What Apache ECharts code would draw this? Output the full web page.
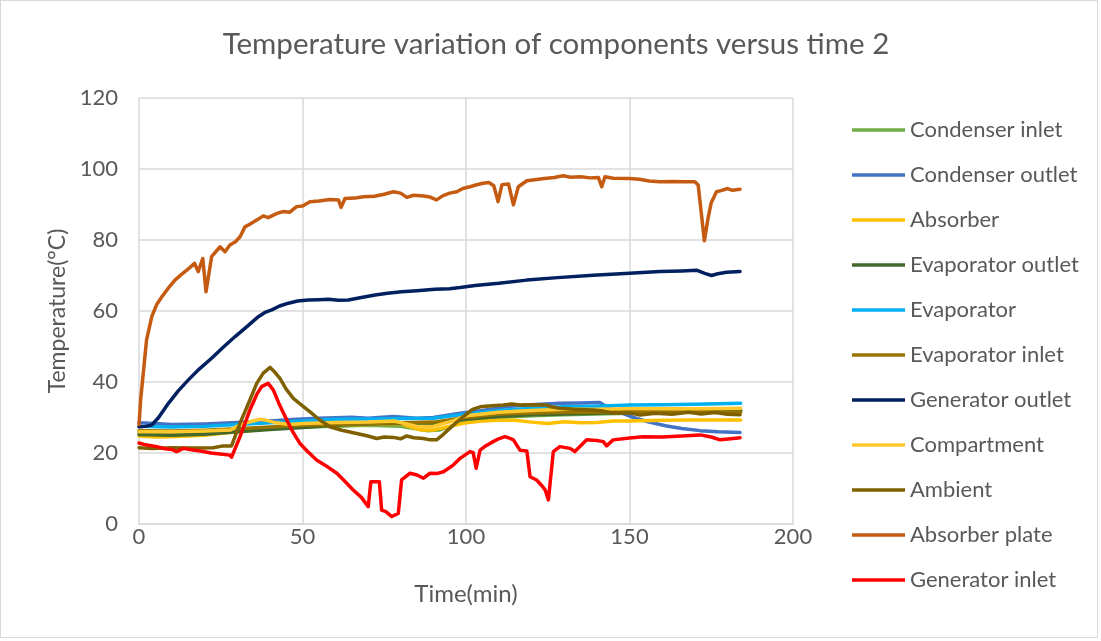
<!DOCTYPE html>
<html>
<head>
<meta charset="utf-8">
<script src="https://cdn.jsdelivr.net/npm/echarts@6/dist/echarts.min.js"></script>
<style>
  html, body { margin: 0; padding: 0; background: #fff; }
  #frame { position: absolute; left: 0; top: 0; width: 1096px; height: 636px; border: 1px solid #d9d9d9; }
  #chart { width: 1101px; height: 641px; }
</style>
</head>
<body>
<div id="frame"></div>
<div id="chart"></div>
<script>
// Measured temperatures, [time (min), temperature (°C)]
const condenserInlet = [[0,25.8],[10,25.8],[20,26],[30,26.3],[40,27],[50,27.3],[60,27.5],[70,27.8],[80,27.5],[88,26.3],[92,26.5],[100,29],[110,30],[120,30.5],[130,30.8],[140,31],[150,31.2],[160,31.5],[170,31.6],[184,31.8]];
const condenserOutlet = [[0,28.5],[5,28.3],[10,28],[20,28.2],[30,28.6],[40,29],[48.2,29.5],[55,29.8],[65,30.1],[70,29.8],[77.8,30.3],[85,29.8],[90,30],[98.2,31.2],[105,32],[113.5,33.2],[120,33.6],[128.7,34],[135,34.1],[140.9,34.2],[143,33],[147,31.5],[151.2,30],[156,28.7],[161.4,27.6],[166,26.9],[171.6,26.3],[177,26],[183.8,25.8]];
const absorber = [[0,24.8],[5,24.5],[10,24.6],[20,25],[30,26],[40,26.8],[50,27.3],[60,27.8],[70,28],[80,28.2],[86,26.5],[90,26.5],[95,27.5],[100,28.5],[105,29],[110,29.2],[115,29.2],[120,28.7],[125,28.3],[130,28.8],[135,28.5],[140,28.6],[145,29],[150,29],[160,29.2],[170,29.3],[184,29.3]];
const evaporatorOutlet = [[0,25.2],[10,25],[20,25.3],[30,26],[40,26.6],[50,27.2],[60,27.8],[70,28.2],[80,28.3],[90,28.4],[100,29.5],[110,30.3],[120,30.8],[130,31],[140,31.2],[150,31.5],[160,31.7],[170,31.8],[184,32]];
const evaporator = [[0,27.5],[10,27.3],[20,27.5],[30,28],[40,28.5],[50,29],[60,29.5],[70,29.6],[80,29.7],[90,29.8],[100,31],[110,32],[120,32.6],[130,33],[140,33.2],[150,33.5],[160,33.6],[170,33.7],[184,34]];
const evaporatorInlet = [[0,26.3],[10,26.2],[20,26.4],[30,26.8],[40,27.3],[50,27.8],[60,28],[70,28.3],[80,28.5],[90,28.7],[100,30],[110,31],[120,31.3],[130,31.5],[140,31.5],[150,31.8],[160,31.5],[170,31.7],[184,31.5]];
const generatorOutlet = [[0,27.4],[2,27.5],[3.9,27.9],[6,30],[9,34],[12,37.5],[15.1,40.6],[18.5,43.7],[22.2,46.7],[26,50],[29.4,52.8],[33,55.6],[36.5,58.4],[38.5,59.6],[40.6,60.3],[43,61.4],[45.7,62.2],[48.5,62.8],[51.8,63.1],[55,63.2],[57.9,63.3],[61,63],[64,63.1],[68,63.8],[72.2,64.5],[76,65],[80.3,65.4],[85,65.7],[90.5,66.1],[95,66.3],[98.2,66.6],[102.8,67.2],[110,67.8],[118.6,68.7],[128,69.4],[138.9,70.1],[150,70.6],[159.3,71.1],[166,71.3],[170.5,71.5],[173,70.6],[175.1,70],[177,70.5],[179.7,70.9],[183.8,71.1]];
const compartment = [[0,26],[10,26],[20,26.2],[28,26.5],[31,28],[34,28.8],[37,29.5],[39,29.2],[42,28.5],[46,28],[50,28.3],[60,28.6],[70,28.7],[78,29],[85,27.5],[90,27.5],[96,29],[100,30.5],[105,31],[110,31.5],[120,32],[130,32.3],[140,32.3],[150,32.5],[160,32.5],[170,32.5],[184,32.6]];
const ambient = [[0,21.5],[4,21.3],[10,21.5],[16,21.4],[22.7,21.5],[25.8,22],[28.3,22],[30.9,28.4],[33.5,34],[36,39.6],[38,42.5],[40.1,44.1],[41.5,42.8],[43.1,41],[45,38],[47.2,35.4],[50,33.3],[52.3,31.6],[55,29.5],[58.4,27.4],[62,26.4],[66.6,25.5],[70,24.8],[72.7,24.1],[75,24.5],[77.8,24.4],[80,24],[81.9,24.8],[84,24.3],[87,24.1],[89,23.7],[91,23.7],[93,25.2],[95.1,27],[98.2,29.5],[100.7,31.4],[102,32.3],[104.3,33],[108,33.3],[111.4,33.5],[114,33.8],[116.5,33.5],[120,33.6],[124.7,33.5],[126,33],[128.7,32.6],[133,32.3],[138.9,32.1],[142,31.8],[145,31.2],[150,31.3],[153.2,30.7],[158,31.2],[163,30.9],[168,31.5],[172,31],[176,31.4],[180,30.9],[183.8,30.8]];
const absorberPlate = [[0,28],[0.5,35],[1.3,42.4],[2.3,51.8],[3.9,58.4],[5.5,62],[7,64],[9,66.5],[11,68.7],[13,70.3],[15,71.8],[17,73.4],[18.1,71.1],[19.5,74.8],[20.5,65.4],[22.2,75.3],[24.8,78.1],[26.3,76.7],[27.8,78.6],[29.5,79.5],[30.9,80.9],[32.4,83.7],[34,84.5],[36,85.6],[38,86.8],[39.5,86.3],[41.1,87],[42.5,87.6],[44.1,88],[46,87.8],[48.2,89.4],[50,89.6],[52.3,90.8],[55,91],[58.4,91.4],[61,91.3],[61.8,89.2],[63,91.7],[66,91.8],[68.6,92.2],[72,92.3],[75,92.9],[77.8,93.6],[80,93.2],[81.9,92],[84,92.6],[87,92.4],[89,92.1],[91,91.3],[93,92.5],[95,93.2],[97.2,93.6],[99,94.5],[101.2,95],[103,95.5],[105.2,96],[107,96.2],[108.5,95.3],[109.8,90.8],[111,95.6],[113,95.8],[114.5,89.9],[116,95],[118.6,96.7],[121,97],[124,97.3],[127,97.6],[129.7,98.1],[132,97.7],[135,97.8],[138,97.5],[140.5,97.6],[141.5,95],[142.5,97.8],[145,97.4],[150,97.3],[153,97.1],[156,96.6],[159.3,96.4],[163,96.5],[167,96.4],[170,96.4],[171,95.5],[172.9,79.8],[174,86],[175,90.5],[176.6,93.6],[178,93.9],[180,94.5],[181.5,94],[183.8,94.3]];
const generatorInlet = [[0,22.8],[2,22.3],[5.4,21.8],[8,21.2],[10,21],[11.5,20.4],[13.6,21.3],[16,20.9],[19.7,20.4],[22,20],[24.8,19.7],[27.8,19.4],[28.3,18.8],[30.9,24.6],[33.9,32.1],[36,36.5],[37.5,38.7],[39.5,39.6],[41.1,37.7],[43,33.5],[45.2,29.3],[47,26],[49.2,22.7],[51.5,20.5],[54.3,18],[57,16.5],[60.5,14.3],[63,12],[65.5,9.6],[68,7.5],[70.1,4.9],[70.9,11.9],[73.5,11.9],[74.2,3.9],[75.5,3.5],[77.3,2.1],[79.3,3],[80.3,12.4],[82.9,14.3],[85,13.8],[87,12.9],[89,14.3],[91,14.2],[93.1,14.7],[96.1,16.6],[98.2,18.5],[101.2,20.4],[102.2,20.1],[103.1,15.7],[104.3,20.8],[106,22],[108.3,23.2],[110,24],[111.9,24.6],[113,24.3],[114.5,23.7],[116.5,20.8],[118.6,20.6],[119.6,13.3],[121.6,12.4],[123,11],[124.2,9.6],[125.2,6.8],[126.7,20.4],[128.7,21.8],[131.8,21.3],[133.3,20.4],[136.9,23.7],[140,23.5],[142,23.2],[143,22],[145,23.7],[150,24.2],[154.2,24.6],[160,24.5],[166,24.8],[171.6,25.1],[175,24.5],[177.7,23.7],[181,24],[183.8,24.3]];

const seriesNames = ['Condenser inlet','Condenser outlet','Absorber','Evaporator outlet','Evaporator','Evaporator inlet','Generator outlet','Compartment','Ambient','Absorber plate','Generator inlet'];
const seriesData = [condenserInlet, condenserOutlet, absorber, evaporatorOutlet, evaporator, evaporatorInlet, generatorOutlet, compartment, ambient, absorberPlate, generatorInlet];
const seriesColors = ['#70AD47','#4472C4','#FFC000','#43682B','#00B0F0','#997300','#002060','#FFC82E','#7F6000','#C55A11','#FF0000'];

const FONT = 'Lato, "Open Sans", sans-serif';
const TEXT = '#595959';

const chart = echarts.init(document.getElementById('chart'));
chart.setOption({
  animation: false,
  backgroundColor: 'transparent',
  title: {
    text: 'Temperature variation of components versus time 2',
    left: 556, top: 29, textAlign: 'center', padding: 0,
    textStyle: { fontFamily: FONT, fontSize: 29.5, fontWeight: 'normal', color: TEXT }
  },
  legend: {
    orient: 'vertical',
    left: 852, top: 119, padding: 0,
    icon: 'rect',
    itemWidth: 53, itemHeight: 3.5,
    itemGap: 23,
    textStyle: { fontFamily: FONT, fontSize: 22, color: TEXT, height: 22, lineHeight: 22 },
    data: seriesNames
  },
  grid: { left: 139, top: 98, width: 654, height: 426, containLabel: false },
  xAxis: {
    type: 'value', min: 0, max: 200, interval: 50,
    name: 'Time(min)', nameLocation: 'middle', nameGap: 58,
    nameTextStyle: { fontFamily: FONT, fontSize: 24, color: TEXT },
    axisLine: { show: true, lineStyle: { color: '#d9d9d9', width: 1.5 } },
    axisTick: { show: false },
    axisLabel: { fontFamily: FONT, fontSize: 22, color: TEXT, margin: 2 },
    splitLine: { show: true, lineStyle: { color: '#d9d9d9', width: 1.5 } }
  },
  yAxis: {
    type: 'value', min: 0, max: 120, interval: 20,
    name: 'Temperature(°C)', nameLocation: 'middle', nameGap: 70, nameRotate: 90,
    nameTextStyle: { fontFamily: FONT, fontSize: 23, color: TEXT },
    axisLine: { show: false },
    axisTick: { show: false },
    axisLabel: { fontFamily: FONT, fontSize: 22, color: TEXT, margin: 21 },
    splitLine: { show: true, lineStyle: { color: '#d9d9d9', width: 1.5 } }
  },
  series: seriesNames.map((name, i) => ({
    name,
    type: 'line',
    data: seriesData[i],
    showSymbol: false,
    symbol: 'none',
    color: seriesColors[i],
    lineStyle: { width: 3.5, color: seriesColors[i], join: 'round', cap: 'round' }
  }))
});
</script>
</body>
</html>
